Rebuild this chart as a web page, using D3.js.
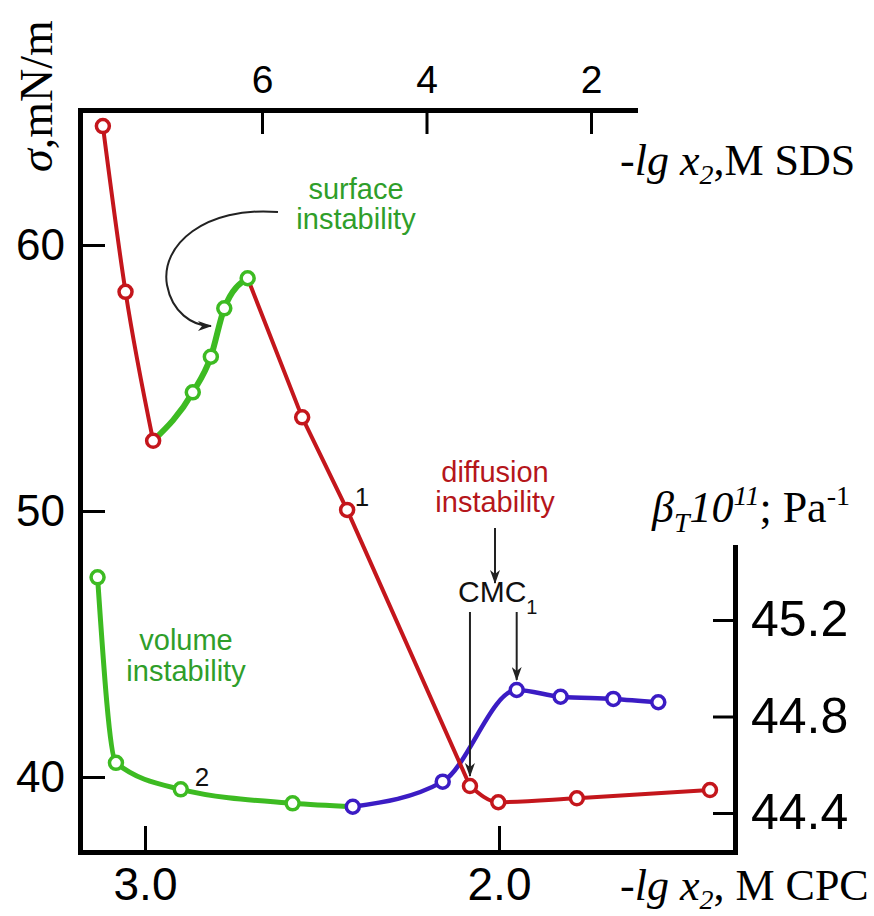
<!DOCTYPE html>
<html>
<head>
<meta charset="utf-8">
</head>
<body>
<style>

    body {
        margin: 0;
        background: #fff;
    }

    .axis path.domain {
        stroke: #000;
        stroke-width: 5px;
        stroke-linecap: square;
    }

    .axis .tick line {
        stroke: #000;
        stroke-width: 3px;
    }

    .axis text {
        font-family: "Liberation Sans", Arial, sans-serif;
        fill: #000;
    }

    path.line {
        fill: none;
        stroke-linejoin: round;
        stroke-linecap: round;
    }

    circle.dot {
        fill: #fff;
        stroke-width: 3.5px;
    }

    .title {
        font-family: "Liberation Serif", "Times New Roman", serif;
        fill: #000;
    }

    .note {
        font-family: "Liberation Sans", Arial, sans-serif;
        text-anchor: middle;
    }

    .pointer {
        fill: none;
        stroke: #222;
        stroke-width: 2px;
    }

</style>
<script src="https://cdn.jsdelivr.net/npm/d3@7"></script>
<script>

    var width = 874;
    var height = 916;

    // curve 1: surface tension sigma, mN/m  vs  -lg x2
    var c1X     = [3.119, 3.055, 2.977, 2.865, 2.814, 2.776, 2.710, 2.556, 2.429, 2.082, 2.002, 1.780, 1.404];
    var c1Sigma = [64.47, 58.24, 52.64, 54.46, 55.80, 57.62, 58.75, 53.52, 50.04, 39.66, 39.05, 39.20, 39.51];

    // curve 2: beta_T * 10^11, Pa^-1  vs  -lg x2
    var c2X    = [3.134, 3.082, 2.899, 2.583, 2.413, 2.159, 1.950, 1.826, 1.677, 1.550];
    var c2Beta = [45.377, 44.608, 44.498, 44.440, 44.426, 44.530, 44.910, 44.882, 44.873, 44.859];

    var leftTicks = [40, 50, 60];
    var rightTicks = [44.4, 44.8, 45.2];
    var bottomTicks = [3.0, 2.0];
    var topTicks = [6, 4, 2];

    var red = "#c4161c";
    var green = "#3dbb22";
    var blue = "#3b1cc4";

    var svg = d3.select("body").append("svg")
        .attr("width", width)
        .attr("height", height);

    var defs = svg.append("defs");
    defs.append("marker")
        .attr("id", "arrow")
        .attr("markerUnits", "userSpaceOnUse")
        .attr("viewBox", "0 0 14 10")
        .attr("refX", 13)
        .attr("refY", 5)
        .attr("markerWidth", 14)
        .attr("markerHeight", 10)
        .attr("orient", "auto")
        .append("path")
        .attr("d", "M0,0 L14,5 L0,10 L4,5 Z")
        .attr("fill", "#222");

    var xBottom = d3.scaleLinear().domain([3.1836, 1.3333]).range([80, 735]);
    var xTop = d3.scaleLinear().domain([8.2128, 1.465]).range([80, 635]);
    var yLeft = d3.scaleLinear().domain([37.18, 65.075]).range([852, 110]);
    var yRight = d3.scaleLinear().domain([44.2383, 45.5026]).range([852, 547]);

    // axes
    var gLeft = svg.append("g").attr("class", "axis")
        .attr("transform", "translate(80,0)")
        .call(d3.axisLeft(yLeft).tickValues(leftTicks).tickFormat(d3.format("d"))
            .tickSizeInner(-25).tickSizeOuter(0).tickPadding(15));
    gLeft.selectAll("text").style("font-size", "44px");

    var gTop = svg.append("g").attr("class", "axis")
        .attr("transform", "translate(0,110)")
        .call(d3.axisTop(xTop).tickValues(topTicks).tickFormat(d3.format("d"))
            .tickSizeInner(-24).tickSizeOuter(0).tickPadding(17));
    gTop.selectAll("text").style("font-size", "39px");

    var gBottom = svg.append("g").attr("class", "axis")
        .attr("transform", "translate(0,852)")
        .call(d3.axisBottom(xBottom).tickValues(bottomTicks).tickFormat(d3.format(".1f"))
            .tickSizeInner(-26).tickSizeOuter(0).tickPadding(15));
    gBottom.selectAll("text").style("font-size", "46px");

    var gRight = svg.append("g").attr("class", "axis")
        .attr("transform", "translate(735,0)")
        .call(d3.axisRight(yRight).tickValues(rightTicks).tickFormat(d3.format(".1f"))
            .tickSizeInner(-22).tickSizeOuter(0).tickPadding(16));
    gRight.selectAll("text").style("font-size", "50px");

    svg.selectAll(".axis").attr("font-family", null).attr("font-size", null);

    // lines
    function lineOf(xs, ys, xScale, yScale, curve) {
        return d3.line()
            .x(function (i) { return xScale(xs[i]); })
            .y(function (i) { return yScale(ys[i]); })
            .curve(curve);
    }
    var line1 = lineOf(c1X, c1Sigma, xBottom, yLeft, d3.curveMonotoneX);
    var line1Straight = lineOf(c1X, c1Sigma, xBottom, yLeft, d3.curveLinear);
    var line2 = lineOf(c2X, c2Beta, xBottom, yRight, d3.curveMonotoneX);

    function drawLine(idx, gen, color, w) {
        svg.append("path").attr("class", "line")
            .datum(idx)
            .attr("d", gen)
            .style("stroke", color).style("stroke-width", w);
    }

    drawLine(d3.range(4, 10), line2, blue, 4.5);
    drawLine(d3.range(0, 5), line2, green, 5);
    drawLine(d3.range(0, 3), line1, red, 4);
    drawLine(d3.range(6, 10), line1Straight, red, 4);
    drawLine(d3.range(9, 13), line1, red, 4);
    drawLine(d3.range(2, 7), line1, green, 6);

    // markers
    function dotColor1(i) {
        return (i >= 3 && i <= 6) ? green : red;
    }
    function dotColor2(i) {
        return i <= 3 ? green : blue;
    }

    svg.selectAll("circle.c1")
        .data(d3.range(c1X.length))
        .enter().append("circle")
        .attr("class", "dot c1")
        .attr("r", 6.5)
        .attr("cx", function (i) { return xBottom(c1X[i]); })
        .attr("cy", function (i) { return yLeft(c1Sigma[i]); })
        .style("stroke", dotColor1);

    svg.selectAll("circle.c2")
        .data(d3.range(c2X.length))
        .enter().append("circle")
        .attr("class", "dot c2")
        .attr("r", 6.5)
        .attr("cx", function (i) { return xBottom(c2X[i]); })
        .attr("cy", function (i) { return yRight(c2Beta[i]); })
        .style("stroke", dotColor2);

    // axis titles
    var tSigma = svg.append("text").attr("class", "title")
        .attr("transform", "translate(52,96) rotate(-90)")
        .attr("text-anchor", "middle")
        .style("font-size", "46px");
    tSigma.append("tspan").style("font-style", "italic").text("σ");
    tSigma.append("tspan").text(",mN/m");

    function lgTitle(x, y, tail) {
        var t = svg.append("text").attr("class", "title")
            .attr("x", x).attr("y", y)
            .style("font-size", "44px");
        t.append("tspan").style("font-style", "italic").text("-lg x");
        t.append("tspan").style("font-style", "italic").style("font-size", "28px")
            .attr("dy", 9).text("2");
        t.append("tspan").attr("dy", -9).text(tail);
    }
    lgTitle(620, 175, ",M SDS");
    lgTitle(620, 900, ", M CPC");

    var tBeta = svg.append("text").attr("class", "title")
        .attr("x", 652).attr("y", 522)
        .style("font-size", "44px");
    tBeta.append("tspan").style("font-style", "italic").text("β");
    tBeta.append("tspan").style("font-style", "italic").style("font-size", "28px")
        .attr("dy", 10).text("T");
    tBeta.append("tspan").style("font-style", "italic").attr("dy", -10).text("10");
    tBeta.append("tspan").style("font-style", "italic").style("font-size", "28px")
        .attr("dy", -17).text("11");
    tBeta.append("tspan").attr("dy", 17).text("; Pa");
    tBeta.append("tspan").style("font-size", "28px").attr("dy", -17).text("-1");

    // annotations
    function note(lines, x, y, color, size, gap) {
        var t = svg.append("text").attr("class", "note")
            .style("fill", color).style("font-size", size + "px");
        lines.forEach(function (s, k) {
            t.append("tspan").attr("x", x).attr("y", y + k * gap).text(s);
        });
    }
    note(["surface", "instability"], 356, 199, "#2f9e2a", 29, 30);
    note(["volume", "instability"], 186, 650, "#2f9e2a", 29, 31);
    note(["diffusion", "instability"], 495, 482, "#b5161b", 29, 30);

    var cmc = svg.append("text").attr("class", "note")
        .attr("x", 458).attr("y", 602)
        .style("text-anchor", "start")
        .style("font-size", "30px").style("fill", "#111");
    cmc.append("tspan").text("CMC");
    cmc.append("tspan").style("font-size", "20px").attr("dy", 12).text("1");

    svg.append("text").attr("class", "note")
        .attr("x", 362).attr("y", 506)
        .style("font-size", "26px").style("fill", "#111")
        .text("1");
    svg.append("text").attr("class", "note")
        .attr("x", 202).attr("y", 786)
        .style("font-size", "26px").style("fill", "#111")
        .text("2");

    // arrows
    function arrow(d) {
        svg.append("path").attr("class", "pointer")
            .attr("d", d)
            .attr("marker-end", "url(#arrow)");
    }
    var xa = xBottom(c1X[9]);
    var xb = xBottom(c2X[6]);
    arrow("M495,528 L495,583");
    arrow("M" + xa + ",612 L" + xa + "," + (yLeft(c1Sigma[9]) - 10));
    arrow("M" + xb + ",612 L" + xb + "," + (yRight(c2Beta[6]) - 10));
    arrow("M278,212 C205,206 160,245 167,285 C172,312 192,326 211,326");

</script>
</body>
</html>
